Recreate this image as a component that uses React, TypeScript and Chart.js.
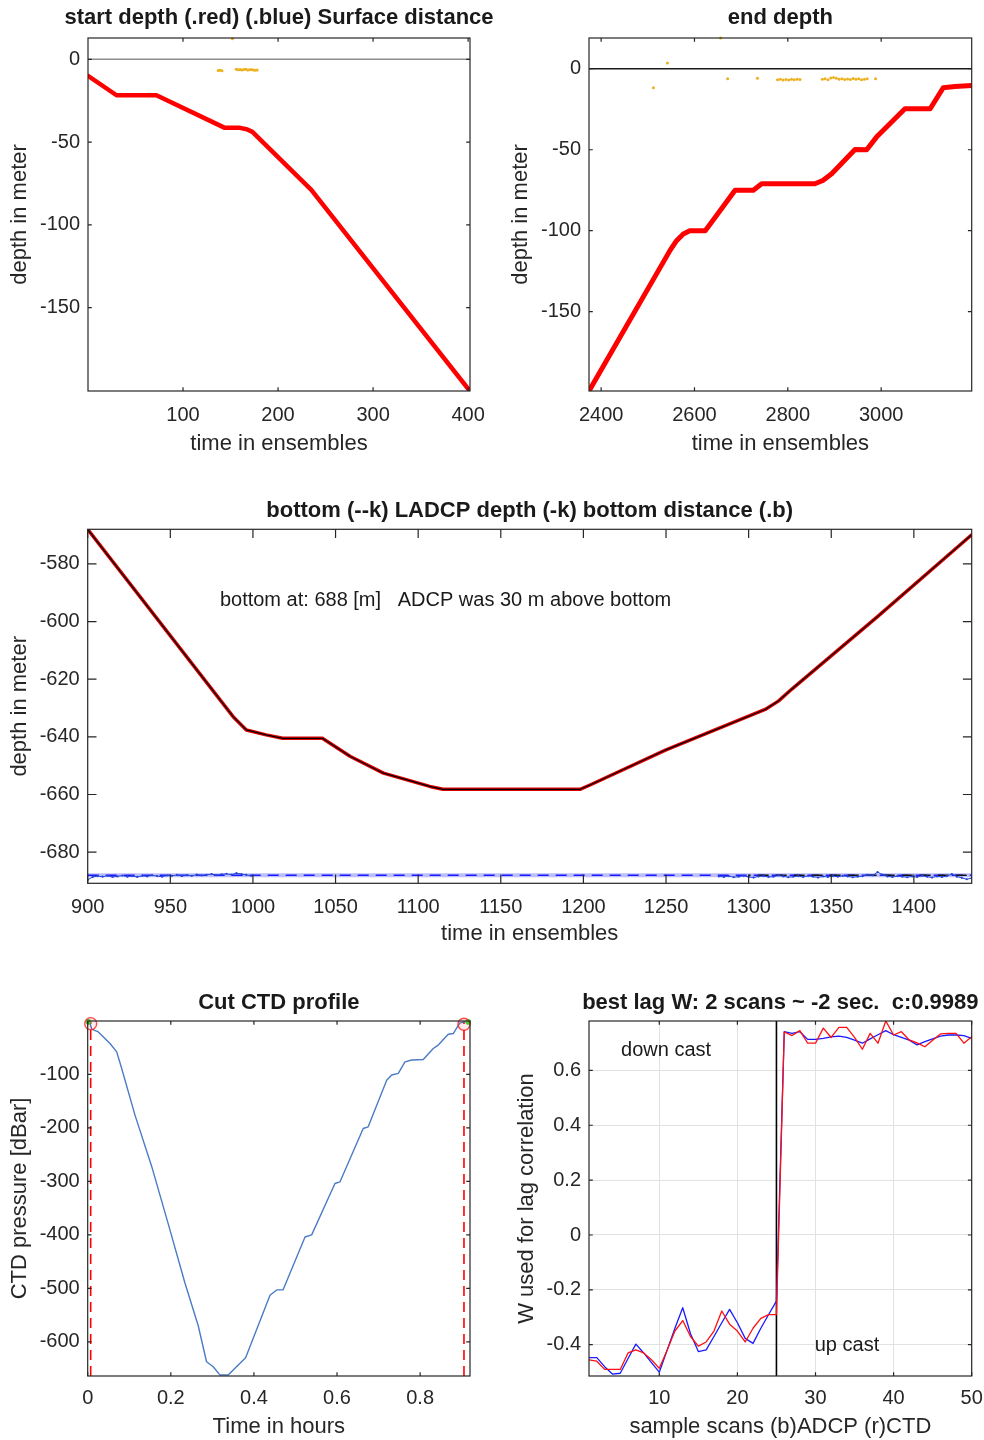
import React, { useEffect, useRef } from "react";
import { Chart, registerables } from "chart.js";

Chart.register(...registerables);

// ================= DATA =================
// Panel 1: start depth
const startEns = [0, 30, 72, 144, 160, 167, 173, 235, 401];
const startDepth = [-10, -21.7, -21.7, -41.4, -41.4, -42.2, -43.8, -78.9, -199.8];
const startSurfEns = [152, 137, 139, 141, 156, 158, 160, 162, 164, 166, 168, 170, 172, 174, 176, 178];
const startSurfDist = [12.5, -6.8, -6.6, -6.9, -6.0, -6.3, -6.1, -6.4, -6.2, -6.0, -6.5, -6.3, -6.1, -6.4, -6.6, -6.4];
const startXRange = [0, 402];
const startYRange = [-200.4, 12.9];
const startXTicks = [100, 200, 300, 400];
const startYTicks = [-150, -100, -50, 0];

// Panel 2: end depth
const endEns = [2374, 2548, 2562, 2576, 2590, 2623, 2637, 2687, 2726, 2744, 2858, 2875, 2894, 2944, 2969, 2990, 3051, 3105, 3133, 3158, 3194];
const endDepth = [-199, -112, -106, -102, -100, -100, -94.7, -75, -75, -71, -71, -69, -64.8, -49.8, -50, -42.2, -24.7, -24.7, -11.7, -10.9, -10.3];
const endSurfEns = [2512, 2542, 2656, 2671, 2735, 2778, 2784, 2790, 2796, 2802, 2808, 2814, 2820, 2826, 2874, 2880, 2886, 2892, 2898, 2904, 2910, 2916, 2922, 2928, 2934, 2940, 2946, 2952, 2958, 2964, 2970, 2988];
const endSurfDist = [-11.7, 3.5, 19, -6.2, -5.8, -6.8, -6.4, -7.0, -6.6, -6.9, -6.5, -6.8, -6.4, -6.7, -6.5, -6.2, -6.8, -5.7, -5.4, -5.9, -6.4, -6.1, -6.7, -6.3, -6.6, -6.0, -6.5, -6.2, -6.8, -6.4, -6.1, -6.2];
const endXRange = [2374, 3194];
const endYRange = [-199, 19];
const endXTicks = [2400, 2600, 2800, 3000];
const endYTicks = [-150, -100, -50, 0];

// Panel 3: bottom
const midEns = [900, 988, 996, 1008, 1018, 1042, 1059, 1079, 1107, 1115, 1198, 1204, 1250, 1310, 1318, 1326, 1378, 1435];
const midDepth = [-568, -633, -637.6, -639.3, -640.5, -640.5, -646.8, -652.6, -657.2, -658.2, -658.2, -656.7, -644.5, -630.5, -627.6, -623.5, -598.3, -569.9];
const bottomDepth = -688;
const bottomBlackEns = [1300, 1435];
const distLeftEns = [900, 903, 906, 909, 912, 915, 918, 921, 924, 927, 930, 933, 936, 939, 942, 945, 948, 951, 954, 957, 960, 963, 966, 969, 972, 975, 978, 981, 984, 987, 990, 993, 996, 999];
const distLeftDepth = [-689.6, -688.6, -688.3, -688.5, -688.2, -688.6, -688.4, -688.1, -688.5, -688.3, -688.6, -688.2, -688.4, -688.0, -688.3, -688.5, -688.1, -688.2, -687.9, -688.3, -688.0, -688.2, -687.8, -688.1, -687.9, -687.6, -688.0, -687.7, -687.5, -687.8, -687.3, -687.6, -687.9, -688.2];
const distRightEns = [1282, 1285, 1288, 1291, 1294, 1297, 1300, 1303, 1306, 1309, 1312, 1315, 1318, 1321, 1324, 1327, 1330, 1333, 1336, 1339, 1342, 1345, 1348, 1351, 1354, 1357, 1360, 1363, 1366, 1369, 1372, 1375, 1378, 1381, 1384, 1387, 1390, 1393, 1396, 1399, 1402, 1405, 1408, 1411, 1414, 1417, 1420, 1423, 1426, 1429, 1432, 1435];
const distRightDepth = [-688.4, -688.6, -688.3, -688.7, -688.5, -688.2, -688.6, -688.8, -688.4, -688.3, -688.6, -688.5, -688.1, -688.4, -688.7, -688.5, -688.3, -688.6, -688.2, -688.5, -688.8, -688.4, -688.6, -688.3, -688.5, -688.2, -688.4, -688.7, -688.5, -688.3, -687.9, -688.1, -686.9, -687.8, -688.4, -688.6, -688.3, -688.5, -688.7, -688.4, -688.6, -688.2, -688.5, -688.8, -688.4, -688.6, -688.3, -687.6, -688.5, -688.9, -689.4, -689.0];
const midXRange = [900, 1435];
const midYRange = [-690.8, -568];
const midXTicks = [900, 950, 1000, 1050, 1100, 1150, 1200, 1250, 1300, 1350, 1400];
const midYTicks = [-680, -660, -640, -620, -600, -580];
const midNote = "bottom at: 688 [m]   ADCP was 30 m above bottom";
const midNotePos = [980, -592.6];

// Panel 4: cut CTD profile
const ctdHours = [0.005, 0.0096, 0.0255, 0.0537, 0.0698, 0.0818, 0.1138, 0.154, 0.194, 0.234, 0.266, 0.286, 0.302, 0.318, 0.338, 0.38, 0.4387, 0.4548, 0.47, 0.523, 0.539, 0.595, 0.607, 0.663, 0.675, 0.7195, 0.7315, 0.7474, 0.7635, 0.7796, 0.8075, 0.8316, 0.8436, 0.8677, 0.8797, 0.8958, 0.9078];
const ctdPress = [-3, -15.3, -20.4, -42, -57.7, -88.9, -176, -272, -380, -490, -570, -637.4, -646.8, -662, -662, -630, -513, -503, -503, -404, -400, -304, -301, -201, -198, -111, -101, -98, -76.5, -73, -72, -51.5, -45, -24.7, -23.4, -3.5, -1.6];
const cutHours = [0.0072, 0.9055];
const cutPress = [-5, -6];
const ctdStartEndHours = [0.0015, 0.9158];
const ctdStartEndPress = [-1.6, -1.7];
const ctdXRange = [0, 0.92];
const ctdYRange = [-664, 0];
const ctdXTicks = [0, 0.2, 0.4, 0.6, 0.8];
const ctdYTicks = [-600, -500, -400, -300, -200, -100];

// Panel 5: lag correlation
const scanNo = [1, 2, 3, 4, 5, 6, 7, 8, 9, 10, 11, 12, 13, 14, 15, 16, 17, 18, 19, 20, 21, 22, 23, 24, 25, 26, 27, 28, 29, 30, 31, 32, 33, 34, 35, 36, 37, 38, 39, 40, 41, 42, 43, 44, 45, 46, 47, 48, 49, 50];
const wAdcp = [-0.447, -0.447, -0.48, -0.507, -0.504, -0.45, -0.398, -0.43, -0.465, -0.5, -0.42, -0.34, -0.265, -0.36, -0.425, -0.419, -0.37, -0.32, -0.271, -0.32, -0.377, -0.395, -0.34, -0.29, -0.241,
  0.741, 0.735, 0.741, 0.713, 0.713, 0.717, 0.722, 0.725, 0.72, 0.71, 0.699, 0.715, 0.73, 0.745, 0.73, 0.72, 0.71, 0.693, 0.705, 0.715, 0.725, 0.729, 0.729, 0.727, 0.717];
const wCtd = [-0.455, -0.46, -0.49, -0.49, -0.49, -0.43, -0.419, -0.43, -0.455, -0.486, -0.42, -0.35, -0.312, -0.37, -0.405, -0.39, -0.35, -0.277, -0.325, -0.35, -0.39, -0.34, -0.304, -0.29, -0.29,
  0.74, 0.727, 0.745, 0.699, 0.699, 0.754, 0.72, 0.757, 0.757, 0.72, 0.677, 0.735, 0.699, 0.78, 0.729, 0.741, 0.711, 0.7, 0.686, 0.71, 0.733, 0.735, 0.735, 0.699, 0.723];
const castSplitScan = 25;
const lagXRange = [1, 50];
const lagYRange = [-0.514, 0.78];
const lagXTicks = [10, 20, 30, 40, 50];
const lagYTicks = [-0.4, -0.2, 0, 0.2, 0.4, 0.6];
const lagNotes = ["down cast", "up cast"];
const lagNoteX = [5.1, 29.9];
const lagNoteY = [0.671, -0.401];

// ================= STYLE / LAYOUT =================
const FONT = "'Liberation Sans', Arial, Helvetica, sans-serif";
const TXT = "#262626";
const TICK_SIZE = 20;
const LABEL_SIZE = 22;
const TITLE_SIZE = 22;
const LH = 1.2;

type Geo = {
  cx: number; cy: number; cw: number; ch: number;
  L: number; T: number; R: number; B: number;
  titleY: number; yTitleX: number; xTickY: number; xTitleY: number;
  tickLen: number;
};

const pts = (xs: number[], ys: number[]) => xs.map((x, i) => ({ x, y: ys[i] }));

function axesPlugin(tickLen: number) {
  return {
    id: "matlabAxes",
    afterLayout(chart: any) {
      // title is laid out over the axes box; give it room to be wider than the axes (no squeezing)
      const tb = chart.titleBlock;
      if (tb) {
        tb.left -= 80;
        tb.right += 80;
        tb.width = tb.right - tb.left;
      }
    },
    afterDatasetsDraw(chart: any) {
      const { ctx, chartArea: a } = chart;
      const xs = chart.scales.x;
      const ys = chart.scales.y;
      ctx.save();
      ctx.strokeStyle = TXT;
      ctx.lineWidth = 1.2;
      ctx.beginPath();
      xs.ticks.forEach((t: any) => {
        const p = xs.getPixelForValue(t.value);
        ctx.moveTo(p, a.bottom);
        ctx.lineTo(p, a.bottom - tickLen);
        ctx.moveTo(p, a.top);
        ctx.lineTo(p, a.top + tickLen);
      });
      ys.ticks.forEach((t: any) => {
        const p = ys.getPixelForValue(t.value);
        ctx.moveTo(a.left, p);
        ctx.lineTo(a.left + tickLen, p);
        ctx.moveTo(a.right, p);
        ctx.lineTo(a.right - tickLen, p);
      });
      ctx.stroke();
      ctx.strokeRect(a.left, a.top, a.right - a.left, a.bottom - a.top);
      ctx.restore();
    },
  };
}

function notesPlugin(texts: string[], xs: number[], ys: number[]) {
  return {
    id: "notes",
    afterDatasetsDraw(chart: any) {
      const { ctx } = chart;
      ctx.save();
      ctx.font = `${TICK_SIZE}px ${FONT}`;
      ctx.fillStyle = "#1a1a1a";
      ctx.textBaseline = "middle";
      ctx.textAlign = "left";
      texts.forEach((t, i) => {
        ctx.fillText(t, chart.scales.x.getPixelForValue(xs[i]), chart.scales.y.getPixelForValue(ys[i]));
      });
      ctx.restore();
    },
  };
}

function buildOptions(g: Geo, c: {
  title: string; xTitle: string; yTitle: string;
  xRange: number[]; yRange: number[]; xTicks: number[]; yTicks: number[]; grid?: boolean;
}) {
  const lhT = TITLE_SIZE * LH;
  const lhL = LABEL_SIZE * LH;
  const lhK = TICK_SIZE * LH;
  const tickFont = { family: FONT, size: TICK_SIZE, lineHeight: LH };
  const labelFont = { family: FONT, size: LABEL_SIZE, lineHeight: LH };
  const gridOpt = { display: !!c.grid, color: "#e2e2e2", lineWidth: 1, drawTicks: false };
  return {
    responsive: false,
    animation: false,
    events: [],
    layout: { padding: { left: 0, top: 0, right: g.cx + g.cw - g.R, bottom: 0 } },
    plugins: {
      legend: { display: false },
      tooltip: { enabled: false },
      title: {
        display: true,
        text: c.title,
        color: "#1a1a1a",
        fullSize: false,
        font: { family: FONT, size: TITLE_SIZE, weight: "bold", lineHeight: LH },
        padding: { top: g.titleY - g.cy - lhT / 2, bottom: g.T - g.titleY - lhT / 2 },
      },
    },
    scales: {
      x: {
        type: "linear",
        position: "bottom",
        min: c.xRange[0],
        max: c.xRange[1],
        afterBuildTicks: (s: any) => { s.ticks = c.xTicks.map((v) => ({ value: v })); },
        afterFit: (s: any) => { s.height = g.cy + g.ch - g.B; },
        grid: gridOpt,
        border: { display: false },
        ticks: {
          autoSkip: false, maxRotation: 0, minRotation: 0,
          padding: g.xTickY - g.B - lhK / 2,
          color: TXT, font: tickFont,
          callback: (v: any) => String(v),
        },
        title: {
          display: true, text: c.xTitle, color: TXT, font: labelFont,
          padding: { top: 0, bottom: g.cy + g.ch - g.xTitleY - lhL / 2 },
        },
      },
      y: {
        type: "linear",
        position: "left",
        min: c.yRange[0],
        max: c.yRange[1],
        afterBuildTicks: (s: any) => { s.ticks = c.yTicks.map((v) => ({ value: v })); },
        afterFit: (s: any) => { s.width = g.L - g.cx; },
        grid: gridOpt,
        border: { display: false },
        ticks: {
          autoSkip: false,
          padding: 8,
          color: TXT, font: tickFont,
          callback: (v: any) => String(v),
        },
        title: {
          display: true, text: c.yTitle, color: TXT, font: labelFont,
          padding: { top: g.yTitleX - g.cx - lhL / 2, bottom: 0 },
        },
      },
    },
  };
}

const lineDs = (data: any[], color: string, width: number, extra: any = {}) => ({
  type: "scatter",
  data,
  showLine: true,
  borderColor: color,
  backgroundColor: color,
  borderWidth: width,
  pointRadius: 0,
  tension: 0,
  fill: false,
  borderJoinStyle: "round",
  borderCapStyle: "round",
  ...extra,
});

const dotDs = (data: any[], color: string, radius: number, extra: any = {}) => ({
  type: "scatter",
  data,
  showLine: false,
  pointRadius: radius,
  pointBackgroundColor: color,
  pointBorderWidth: 0,
  borderColor: color,
  backgroundColor: color,
  ...extra,
});

// ================= PANELS =================
const geoStart: Geo = { cx: 0, cy: 0, cw: 558, ch: 470, L: 88, T: 38, R: 470, B: 391, titleY: 17.5, yTitleX: 20, xTickY: 415, xTitleY: 444, tickLen: 3.8 };
const geoEnd: Geo = { cx: 490, cy: 0, cw: 581, ch: 470, L: 589, T: 38, R: 971.7, B: 391, titleY: 17.5, yTitleX: 520.5, xTickY: 415, xTitleY: 444, tickLen: 3.8 };
const geoMid: Geo = { cx: 0, cy: 480, cw: 1059, ch: 480, L: 87.7, T: 529.3, R: 971.7, B: 883.3, titleY: 510.7, yTitleX: 19.5, xTickY: 907, xTitleY: 934, tickLen: 8.8 };
const geoCtd: Geo = { cx: 0, cy: 970, cw: 558, ch: 470, L: 87.7, T: 1021, R: 470, B: 1376, titleY: 1003, yTitleX: 20, xTickY: 1398.5, xTitleY: 1426.5, tickLen: 3.8 };
const geoLag: Geo = { cx: 490, cy: 970, cw: 581, ch: 470, L: 589, T: 1021, R: 971.7, B: 1376, titleY: 1003, yTitleX: 527, xTickY: 1398.5, xTitleY: 1426.5, tickLen: 3.8 };

function startConfig() {
  return {
    type: "scatter",
    data: {
      datasets: [
        dotDs(pts(startSurfEns, startSurfDist), "#EDB120", 1.5, { clip: 3 }),
        lineDs(pts(startEns, startDepth), "#ff0000", 4.5),
        lineDs(pts(startXRange, [0, 0]), "#8c8c8c", 1.5),
      ],
    },
    options: buildOptions(geoStart, {
      title: "start depth (.red) (.blue) Surface distance",
      xTitle: "time in ensembles", yTitle: "depth in meter",
      xRange: startXRange, yRange: startYRange, xTicks: startXTicks, yTicks: startYTicks,
    }),
    plugins: [axesPlugin(geoStart.tickLen)],
  };
}

function endConfig() {
  return {
    type: "scatter",
    data: {
      datasets: [
        dotDs(pts(endSurfEns, endSurfDist), "#EDB120", 1.5, { clip: 3 }),
        lineDs(pts(endEns, endDepth), "#ff0000", 5),
        lineDs(pts(endXRange, [0, 0]), "#1a1a1a", 1.5),
      ],
    },
    options: buildOptions(geoEnd, {
      title: "end depth",
      xTitle: "time in ensembles", yTitle: "depth in meter",
      xRange: endXRange, yRange: endYRange, xTicks: endXTicks, yTicks: endYTicks,
    }),
    plugins: [axesPlugin(geoEnd.tickLen)],
  };
}

function midConfig() {
  return {
    type: "scatter",
    data: {
      datasets: [
        lineDs(pts(midEns, midDepth), "#000000", 1.2),
        lineDs(pts(midEns, midDepth), "#e00000", 3.5),
        lineDs(pts(distLeftEns, distLeftDepth), "#2446d8", 1, { pointRadius: 1.1, pointBorderWidth: 0 }),
        lineDs(pts(distRightEns, distRightDepth), "#2446d8", 1, { pointRadius: 1.1, pointBorderWidth: 0 }),
        lineDs(pts(bottomBlackEns, [bottomDepth, bottomDepth]), "#111111", 1.5, { borderDash: [11, 7], borderCapStyle: "butt", borderDashOffset: 9 }),
        lineDs(pts(midXRange, [bottomDepth, bottomDepth]), "#1a1aff", 1.5, { borderDash: [11, 7], borderCapStyle: "butt" }),
        lineDs(pts(midXRange, [bottomDepth, bottomDepth]), "rgba(110,110,255,0.45)", 4, { borderCapStyle: "butt" }),
      ],
    },
    options: buildOptions(geoMid, {
      title: "bottom (--k) LADCP depth (-k) bottom distance (.b)",
      xTitle: "time in ensembles", yTitle: "depth in meter",
      xRange: midXRange, yRange: midYRange, xTicks: midXTicks, yTicks: midYTicks,
    }),
    plugins: [axesPlugin(geoMid.tickLen), notesPlugin([midNote], [midNotePos[0]], [midNotePos[1]])],
  };
}

function ctdConfig() {
  return {
    type: "scatter",
    data: {
      datasets: [
        dotDs(pts(cutHours, cutPress), "rgba(255,0,0,0.08)", 6, { pointBorderWidth: 1.4, pointBorderColor: "rgba(255,30,30,0.8)", clip: false }),
        dotDs(pts(ctdStartEndHours, ctdStartEndPress), "#33dd33", 2.8, { clip: false }),
        lineDs(pts(ctdHours, ctdPress), "#4a7cc4", 1.4),
        lineDs(pts([cutHours[0], cutHours[0]], ctdYRange), "#ff0000", 1.6, { borderDash: [10, 6], borderCapStyle: "butt" }),
        lineDs(pts([cutHours[1], cutHours[1]], ctdYRange), "#ff0000", 1.6, { borderDash: [10, 6], borderCapStyle: "butt" }),
      ],
    },
    options: buildOptions(geoCtd, {
      title: "Cut CTD profile",
      xTitle: "Time in hours", yTitle: "CTD pressure [dBar]",
      xRange: ctdXRange, yRange: ctdYRange, xTicks: ctdXTicks, yTicks: ctdYTicks,
    }),
    plugins: [axesPlugin(geoCtd.tickLen)],
  };
}

function lagConfig() {
  return {
    type: "scatter",
    data: {
      datasets: [
        lineDs(pts(scanNo, wCtd), "#ff1010", 1.3),
        lineDs(pts(scanNo, wAdcp), "#1a1aff", 1.3),
        lineDs(pts([castSplitScan, castSplitScan], lagYRange), "#000000", 1.6, { borderCapStyle: "butt" }),
      ],
    },
    options: buildOptions(geoLag, {
      title: "best lag W: 2 scans ~ -2 sec.  c:0.9989",
      xTitle: "sample scans (b)ADCP (r)CTD", yTitle: "W used for lag correlation",
      xRange: lagXRange, yRange: lagYRange, xTicks: lagXTicks, yTicks: lagYTicks, grid: true,
    }),
    plugins: [axesPlugin(geoLag.tickLen), notesPlugin(lagNotes, lagNoteX, lagNoteY)],
  };
}

function Panel({ geo, make }: { geo: Geo; make: () => any }) {
  const ref = useRef<HTMLCanvasElement>(null);
  useEffect(() => {
    const chart = new Chart(ref.current as HTMLCanvasElement, make());
    return () => chart.destroy();
  }, []);
  return (
    <canvas
      ref={ref}
      width={geo.cw}
      height={geo.ch}
      style={{ position: "absolute", left: geo.cx, top: geo.cy, width: geo.cw, height: geo.ch }}
    />
  );
}

export default function App() {
  return (
    <div style={{ position: "absolute", left: 0, top: 0, width: 984, height: 1440, overflow: "hidden", background: "#ffffff" }}>
      <Panel geo={geoStart} make={startConfig} />
      <Panel geo={geoEnd} make={endConfig} />
      <Panel geo={geoMid} make={midConfig} />
      <Panel geo={geoCtd} make={ctdConfig} />
      <Panel geo={geoLag} make={lagConfig} />
    </div>
  );
}
